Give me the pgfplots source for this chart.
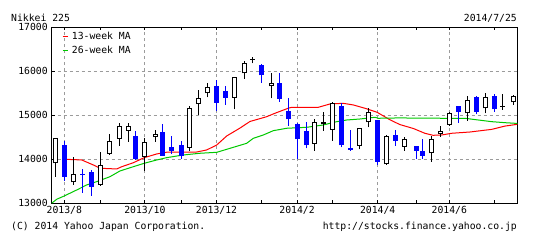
\documentclass[border=0pt]{standalone}
\usepackage{fontspec}
\setmonofont{DejaVu Sans Mono}
\usepackage{pgfplots}
\usepackage{pgfplotstable}
\pgfplotsset{compat=1.18}
\definecolor{cblue}{RGB}{0,0,255}
\definecolor{mared}{RGB}{255,0,0}
\definecolor{magreen}{RGB}{0,200,0}
\definecolor{gridgray}{RGB}{155,155,155}
\newcommand\chartfont{\fontsize{9.8}{11}\selectfont\ttfamily}

% days counted from 2013/8/5; open high low close
\pgfplotstableread{
d o h l c
-7 13908 14477 13603 14477
7 13476 14058 13415 13665
28 13415 14172 13400 13870
35 14120 14575 14100 14416
43 14461 14818 14309 14757
50 14643 14818 14400 14757
63 14058 14477 13733 14400
71 14500 14666 14400 14568
98 14263 15212 14195 15160
105 15257 15576 15007 15387
112 15501 15728 15410 15651
133 15401 15878 15137 15865
141 15956 16236 15826 16183
147 16270 16320 16183 16291
162 15660 15956 15387 15742
196 14347 14909 14195 14855
203 14796 15082 14650 14841
210 14666 15310 14422 15273
231 14302 14718 14227 14704
238 14841 15160 14727 15069
252 13885 14552 13880 14530
266 14286 14513 14188 14454
287 14136 14530 13938 14457
294 14582 14757 14513 14643
301 14780 15082 14757 15053
315 15046 15439 14871 15342
329 15160 15501 15046 15424
343 15190 15478 15121 15205
351 15296 15462 15235 15446
}\upcandles

\pgfplotstableread{
d o h l c
0 14325 14422 13512 13603
14 13670 13772 13239 13650
21 13717 13756 13171 13376
56 14536 14650 13983 14006
77 14613 14802 14070 14081
84 14272 14529 14120 14195
92 14325 14422 14006 14081
119 15667 15803 15105 15287
126 15560 15667 15235 15401
154 16138 16167 15742 15910
168 15742 15970 15310 15378
175 15105 15387 14757 14909
182 14802 14818 13999 14454
189 14650 14855 14250 14318
217 15212 15273 14272 14318
224 14250 14666 14195 14211
245 14893 14900 13870 13938
259 14552 14666 14309 14422
275 14302 14302 14006 14199
280 14188 14461 14006 14081
308 15212 15212 14832 15082
322 15417 15439 15023 15082
336 15439 15478 15082 15137
}\downcandles

\begin{document}
\begin{tikzpicture}[font=\chartfont]
\path[use as bounding box] (0,0) rectangle (535bp,240bp);
\begin{axis}[
  at={(51.7bp,36.8bp)}, anchor=south west,
  scale only axis, width=465.6bp, height=175.8bp,
  xmin=-9.85, xmax=354.2, ymin=13000, ymax=17000,
  axis line style={black, line width=1bp},
  ytick={13000,14000,15000,16000,17000},
  xtick={0,63,119,182,245,301},
  xticklabels={2013/8,2013/10,2013/12,2014/2,2014/4,2014/6},
  minor xtick={28,92,154,210,275,336},
  xmajorgrids, ymajorgrids,
  grid style={gridgray, line width=1bp, dash pattern=on 3bp off 3bp},
  tick align=inside, major tick length=3bp, minor tick length=3bp,
  tick style={black, line width=1bp},
  xtick pos=both, ytick pos=left,
  scaled y ticks=false,
  ticklabel style={font=\chartfont},
  /pgf/number format/assume math mode=true,
  yticklabel style={/pgf/number format/1000 sep={}, xshift=-0.5bp},
  legend style={at={(0,1)}, anchor=north west, xshift=10.3bp, yshift=-3.9bp,
    draw=none, fill=none, inner xsep=0pt, inner ysep=0pt, font=\chartfont,
    nodes={inner sep=1bp, text height=7bp, text depth=2bp},
    row sep=2.6bp, column sep=2.7bp},
  legend cell align=left,
  legend image code/.code={\draw[#1, line width=1bp] (0bp,0bp) -- (5bp,0bp);},
]
% 13-week moving average
\addplot[mared, line width=1bp, mark=none] coordinates {
(0,14000) (13.6,13984) (22.7,13870) (27.9,13795) (41,13779) (44.9,13830)
(53.9,13920) (62.5,14036) (72.2,14120) (80,14160) (93,14160) (103.5,14165)
(111.3,14211) (119.2,14325) (127,14530) (137.4,14710) (145.2,14860)
(158.2,14968) (164.7,15046) (175,15160) (177.8,15182) (198.6,15182)
(207.7,15257) (218.1,15273) (226,15235) (235.1,15160) (244.5,15070)
(254.5,14900) (262.3,14790) (272.9,14700) (282,14590) (288.3,14545)
(295.1,14552) (302.9,14591) (317.2,14620) (334.2,14680) (344.6,14755)
(354.2,14795)};
\addlegendentry{13-week MA}
% 26-week moving average
\addplot[magreen, line width=1bp, mark=none] coordinates {
(-9.85,13000) (-5.9,13090) (0,13165) (9.7,13301) (17.5,13415) (25.3,13490)
(35.7,13603) (43.5,13733) (53.9,13830) (62.5,13908) (72.2,13983) (80,14036)
(93,14097) (106,14136) (119.2,14158) (129.6,14249) (142.6,14363)
(147.8,14477) (155.6,14552) (163.4,14650) (173.9,14705) (189.5,14727)
(202.5,14780) (213,14855) (220.8,14893) (231.2,14916) (243,14955)
(245.5,14932) (261,14940) (297.7,14932) (313.3,14932) (323.7,14893)
(334.2,14855) (344.6,14832) (354.2,14815)};
\addlegendentry{26-week MA}

% falling weeks (blue)
\addplot[draw=none, mark=none, forget plot,
  error bars/.cd, y dir=plus, y explicit, error mark=none,
  error bar style={draw=cblue, line width=1bp}]
  table[x=d, y=l, y error plus expr=\thisrow{h}-\thisrow{l}] {\downcandles};
\addplot[draw=none, mark=none, forget plot,
  error bars/.cd, y dir=plus, y explicit, error mark=none,
  error bar style={draw=cblue, line width=5bp}]
  table[x=d, y=c, y error plus expr=\thisrow{o}-\thisrow{c}] {\downcandles};

% rising weeks (hollow)
\addplot[draw=none, mark=none, forget plot,
  error bars/.cd, y dir=plus, y explicit, error mark=none,
  error bar style={draw=black, line width=1bp}]
  table[x=d, y=l, y error plus expr=\thisrow{h}-\thisrow{l}] {\upcandles};
\addplot[draw=none, mark=none, forget plot,
  error bars/.cd, y dir=plus, y explicit, error mark=none,
  error bar style={draw=black, line width=5bp}]
  table[x=d, y=o, y error plus expr=\thisrow{c}-\thisrow{o}] {\upcandles};
\addplot[draw=none, mark=none, forget plot,
  error bars/.cd, y dir=plus, y explicit, error mark=none,
  error bar style={draw=white, line width=3bp}]
  table[x=d, y expr=\thisrow{o}+22.75, y error plus expr={max(\thisrow{c}-\thisrow{o}-45.5,0)}] {\upcandles};
\end{axis}
\node[anchor=base west, inner sep=0pt] at (11bp,218.5bp) {Nikkei 225};
\node[anchor=base east, inner sep=0pt] at (517bp,218.5bp) {2014/7/25};
\node[anchor=base west, inner sep=0pt] at (11bp,11bp) {(C) 2014 Yahoo Japan Corporation.};
\node[anchor=base east, inner sep=0pt] at (517bp,11bp) {http://stocks.finance.yahoo.co.jp};
\end{tikzpicture}
\end{document}
